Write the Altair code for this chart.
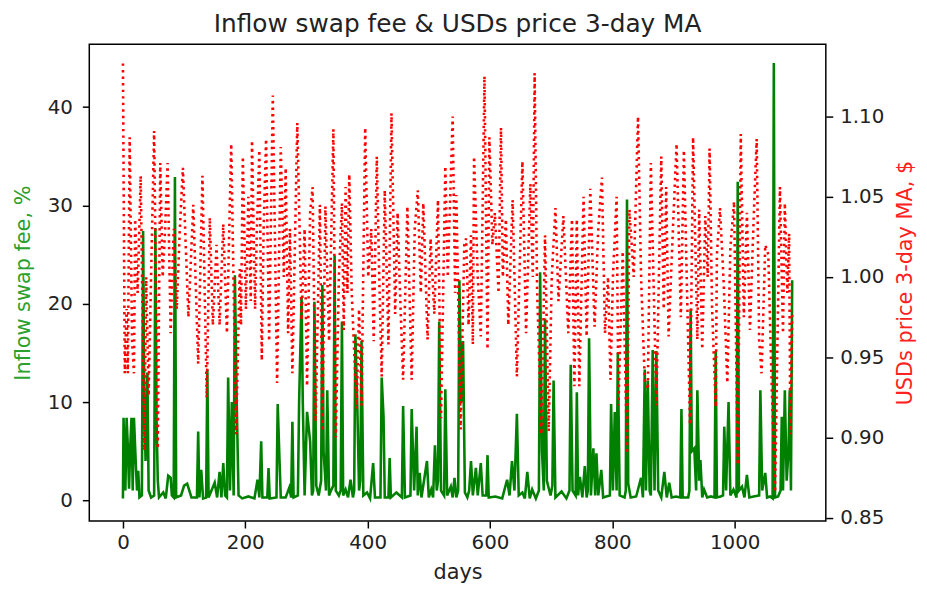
import altair as alt
import pandas as pd

# Inflow swap fee (%): day, value
fee_days = [0, 1, 4, 6, 8, 10, 12, 14, 16, 18, 21, 23, 25, 27, 31, 33, 35, 37, 40, 42, 46, 51, 53, 55, 57, 59,
            66, 70, 74, 78, 80, 83, 85, 87, 95, 100, 105, 112, 121, 123, 125, 128, 131, 136, 138, 140, 150, 154,
            158, 161, 164, 167, 170, 172, 175, 178, 181, 183, 186, 189, 195, 205, 215, 220, 223, 226, 228, 236,
            238, 240, 251, 253, 256, 258, 266, 272, 275, 277, 279, 286, 288, 292, 294, 297, 301, 306, 309, 311,
            313, 316, 320, 324, 326, 328, 332, 334, 337, 340, 344, 346, 348, 353, 356, 358, 360, 364, 368, 372,
            376, 378, 380, 383, 386, 388, 390, 393, 399, 404, 409, 412, 421, 423, 426, 428, 434, 436, 438, 447,
            456, 458, 461, 470, 472, 476, 480, 482, 485, 488, 497, 500, 504, 507, 510, 513, 515, 517, 520, 525,
            527, 530, 536, 539, 542, 545, 548, 550, 553, 556, 559, 563, 566, 569, 572, 577, 580, 585, 588, 594,
            596, 598, 609, 620, 628, 632, 636, 640, 644, 647, 653, 657, 661, 665, 669, 675, 680, 682, 685, 688,
            690, 693, 699, 702, 704, 707, 717, 725, 730, 732, 735, 740, 742, 744, 747, 751, 755, 758, 760, 762,
            765, 769, 772, 774, 777, 782, 785, 790, 796, 798, 801, 804, 807, 809, 812, 820, 822, 824, 826, 830,
            839, 847, 850, 853, 855, 858, 861, 863, 866, 869, 872, 875, 880, 885, 889, 893, 897, 904, 911, 913,
            915, 924, 926, 928, 930, 934, 937, 939, 942, 944, 947, 950, 955, 961, 967, 969, 971, 977, 981, 983,
            986, 990, 993, 998, 1003, 1005, 1007, 1012, 1016, 1020, 1024, 1031, 1040, 1042, 1045, 1050, 1053,
            1058, 1062, 1064, 1066, 1071, 1075, 1077, 1079, 1082, 1085, 1088, 1090, 1092, 1094]
fee_vals = [0.2, 8.4, 1.0, 8.4, 5.5, 1.2, 5.5, 8.4, 1.0, 8.4, 3.8, 1.0, 3.0, 0.3, 0.5, 27.4, 10.0, 4.0, 13.0, 1.0,
            0.3, 0.5, 27.7, 8.0, 2.0, 0.3, 0.8, 0.2, 2.5, 2.3, 0.5, 0.3, 32.9, 0.3, 0.5, 1.5, 1.7, 0.3, 0.3, 7.0,
            0.3, 3.1, 0.2, 0.3, 13.3, 0.3, 1.8, 0.3, 2.9, 0.3, 3.8, 0.5, 0.3, 12.5, 1.0, 10.0, 0.5, 22.9, 10.0,
            0.5, 0.2, 0.4, 0.2, 2.1, 0.3, 6.0, 0.3, 0.3, 3.3, 0.2, 0.3, 9.8, 4.0, 0.3, 0.3, 1.3, 0.3, 8.0, 0.3,
            0.5, 10.0, 20.7, 10.0, 0.5, 9.0, 6.0, 0.5, 1.0, 20.2, 1.5, 0.5, 2.0, 21.9, 5.0, 1.0, 11.2, 0.5, 1.0,
            1.5, 24.9, 1.0, 0.5, 1.0, 18.2, 0.5, 1.1, 0.3, 2.1, 0.3, 1.0, 16.9, 10.0, 1.0, 2.0, 16.2, 0.5, 0.8,
            0.2, 3.8, 0.3, 0.3, 12.5, 8.5, 0.3, 0.3, 4.3, 0.3, 0.8, 0.3, 9.6, 0.3, 0.5, 9.3, 1.0, 7.5, 0.5, 2.8,
            0.3, 4.0, 0.3, 1.1, 0.3, 5.6, 1.0, 2.0, 18.2, 1.0, 0.5, 11.3, 0.5, 1.4, 0.3, 2.3, 0.3, 1.0, 22.4,
            10.0, 16.2, 0.8, 0.3, 1.0, 4.0, 0.5, 3.3, 0.5, 3.8, 0.5, 0.5, 4.6, 0.3, 0.4, 0.2, 2.1, 0.5, 4.0, 1.0,
            8.8, 0.5, 0.8, 0.2, 2.9, 0.2, 1.1, 0.2, 1.0, 23.2, 5.0, 1.0, 18.5, 2.0, 0.5, 1.5, 12.2, 0.3, 0.9,
            0.2, 1.0, 13.8, 1.0, 0.5, 11.0, 0.5, 2.4, 0.3, 3.5, 0.3, 1.0, 16.5, 0.5, 5.3, 0.5, 4.8, 0.5, 3.1,
            0.3, 0.4, 0.5, 9.8, 1.0, 9.0, 1.0, 15.0, 0.5, 0.3, 1.0, 30.6, 1.7, 0.3, 0.4, 2.3, 0.3, 13.3, 1.0,
            12.2, 1.0, 0.5, 15.3, 1.0, 15.2, 1.0, 0.3, 2.9, 0.3, 1.8, 0.3, 0.4, 0.3, 9.3, 0.3, 0.3, 1.0, 19.5,
            5.0, 5.3, 1.0, 11.2, 2.0, 4.1, 0.3, 1.1, 0.3, 0.4, 0.3, 15.2, 0.3, 0.4, 0.5, 7.5, 1.0, 10.0, 0.5,
            1.1, 0.3, 32.4, 1.0, 1.4, 0.3, 2.6, 0.3, 0.4, 0.5, 11.2, 1.0, 2.8, 0.3, 0.4, 0.2, 44.5, 0.3, 0.4,
            1.0, 8.5, 1.0, 11.2, 2.0, 5.0, 11.2, 1.0, 22.4]

# USDs price 3-day moving average ($): day, value
price_days = [0, 3, 6, 8, 11, 15, 18, 20, 24, 29, 35, 38, 42, 46, 51, 57, 61, 65, 69, 73, 78, 83, 88, 93, 98, 107,
              115, 123, 130, 137, 142, 147, 153, 158, 164, 170, 177, 185, 191, 193, 196, 201, 205, 209, 211, 216,
              219, 223, 227, 230, 234, 239, 245, 252, 258, 263, 266, 270, 273, 277, 285, 292, 297, 301, 306, 310,
              315, 322, 326, 331, 337, 344, 348, 353, 358, 361, 364, 367, 370, 374, 382, 386, 390, 396, 401, 406,
              410, 415, 419, 423, 428, 434, 439, 445, 449, 453, 458, 465, 472, 477, 482, 487, 491, 498, 503, 509,
              515, 520, 527, 531, 539, 543, 545, 552, 558, 561, 565, 569, 572, 574, 580, 585, 591, 596, 599, 604,
              608, 614, 618, 621, 626, 630, 637, 644, 653, 659, 666, 670, 673, 677, 684, 690, 696, 701, 707, 712,
              720, 728, 734, 738, 742, 746, 753, 758, 764, 771, 777, 783, 788, 793, 797, 801, 807, 810, 817, 824,
              828, 835, 842, 847, 853, 858, 863, 872, 880, 884, 888, 892, 898, 905, 912, 917, 927, 932, 939, 942,
              947, 952, 956, 959, 963, 969, 971, 976, 982, 988, 993, 999, 1005, 1010, 1015, 1020, 1025, 1031,
              1036, 1040, 1044, 1050, 1055, 1060, 1066, 1074, 1079, 1082, 1086, 1089, 1091, 1094]
price_vals = [1.133, 0.940, 0.980, 0.940, 1.087, 0.960, 0.940, 1.036, 0.990, 1.063, 0.892, 1.000, 0.926, 1.000,
              1.091, 0.893, 1.071, 1.000, 1.030, 1.071, 0.965, 1.030, 0.980, 1.030, 1.068, 0.975, 1.045, 0.946,
              1.063, 0.925, 1.037, 0.970, 1.020, 0.970, 1.033, 0.965, 1.083, 0.902, 1.005, 0.970, 1.075, 0.980,
              1.050, 0.985, 1.085, 0.980, 1.030, 1.079, 0.948, 1.030, 1.086, 0.960, 1.113, 0.934, 1.081, 1.000,
              1.068, 0.965, 1.030, 0.940, 1.096, 0.973, 1.030, 0.932, 1.040, 1.056, 0.910, 1.045, 0.904, 1.044,
              0.960, 1.092, 0.900, 1.000, 1.046, 0.967, 1.056, 0.990, 1.064, 0.990, 0.918, 0.980, 0.920, 1.093,
              1.000, 1.030, 0.960, 1.075, 1.000, 0.938, 1.054, 0.958, 1.102, 0.977, 1.040, 0.990, 0.936, 1.044,
              0.936, 1.030, 1.054, 0.990, 1.046, 0.961, 1.024, 0.977, 1.048, 0.912, 1.069, 1.000, 1.100, 0.990,
              1.051, 0.905, 1.020, 1.024, 0.970, 1.026, 0.958, 1.075, 1.000, 0.963, 1.125, 0.955, 1.087, 1.020,
              1.040, 0.990, 1.093, 1.000, 1.036, 0.970, 1.048, 0.938, 1.072, 0.965, 1.058, 1.000, 1.127, 0.993,
              0.902, 1.026, 0.904, 1.000, 1.043, 0.985, 1.038, 0.965, 1.036, 0.932, 1.036, 0.932, 1.050, 0.963,
              1.055, 0.969, 1.030, 1.062, 0.965, 1.000, 0.936, 1.000, 1.050, 0.920, 1.016, 0.890, 1.042, 1.000,
              1.100, 1.000, 0.936, 0.930, 1.071, 0.920, 1.075, 0.980, 1.056, 0.963, 1.020, 1.083, 0.975, 1.079,
              0.908, 1.087, 0.961, 1.042, 0.955, 1.038, 1.000, 1.080, 0.981, 0.919, 1.014, 1.043, 0.997, 0.934,
              1.018, 1.047, 0.883, 1.089, 0.975, 1.040, 0.967, 1.036, 1.086, 0.961, 0.940, 1.020, 1.014, 0.940,
              0.866, 1.056, 0.965, 1.046, 0.990, 1.027, 0.902, 0.977]

x_ticks = [0, 200, 400, 600, 800, 1000]
fee_ticks = [0, 10, 20, 30, 40]
price_ticks = [0.85, 0.90, 0.95, 1.00, 1.05, 1.10]

fee = pd.DataFrame({"day": fee_days, "fee": fee_vals})
price = pd.DataFrame({"day": price_days, "price": price_vals})

FONT = "DejaVu Sans"
x_enc = alt.X("day:Q",
              scale=alt.Scale(domain=[-55, 1149], nice=False, zero=False),
              axis=alt.Axis(values=x_ticks, title="days", grid=False, tickSize=7, domain=False,
                            labelPadding=5, titlePadding=9, format="d"))

green = alt.Chart(fee).mark_line(color="green", strokeWidth=2.6).encode(
    x=x_enc,
    y=alt.Y("fee:Q",
            scale=alt.Scale(domain=[-2.1, 46.4], nice=False, zero=False),
            axis=alt.Axis(orient="left", values=fee_ticks, title="Inflow swap fee, %",
                          titleColor="#2ca02c", grid=False, tickSize=7, labelPadding=10, domain=False,
                          titlePadding=14, format="d")),
)

red = alt.Chart(price).mark_line(color="red", strokeWidth=2.6, strokeDash=[2.4, 4.2]).encode(
    x=x_enc,
    y=alt.Y("price:Q",
            scale=alt.Scale(domain=[0.848, 1.145], nice=False, zero=False),
            axis=alt.Axis(orient="right", values=price_ticks, title="USDs price 3-day MA, $",
                          titleColor="#ff2020", titleAngle=270, titleBaseline="top", grid=False,
                          tickSize=7, labelPadding=7, domain=False, titlePadding=11, format=".2f")),
)

chart = alt.layer(green, red).resolve_scale(y="independent").properties(
    width=743,
    height=481,
    title=alt.TitleParams("Inflow swap fee & USDs price 3-day MA", fontSize=25, font=FONT,
                          fontWeight="normal", color="#222222", anchor="middle", offset=7),
    autosize=alt.AutoSizeParams(type="none"),
    padding={"left": 82, "top": 34, "right": 94, "bottom": 63},
).configure_view(
    stroke="black", strokeWidth=1.5
).configure_axis(
    labelFont=FONT, titleFont=FONT, labelFontSize=20, titleFontSize=21,
    titleFontWeight="normal", labelColor="#222222", titleColor="#222222",
    tickColor="black", tickWidth=1.5,
)

chart.save("out.html", embed_options={"renderer": "svg", "actions": False})
